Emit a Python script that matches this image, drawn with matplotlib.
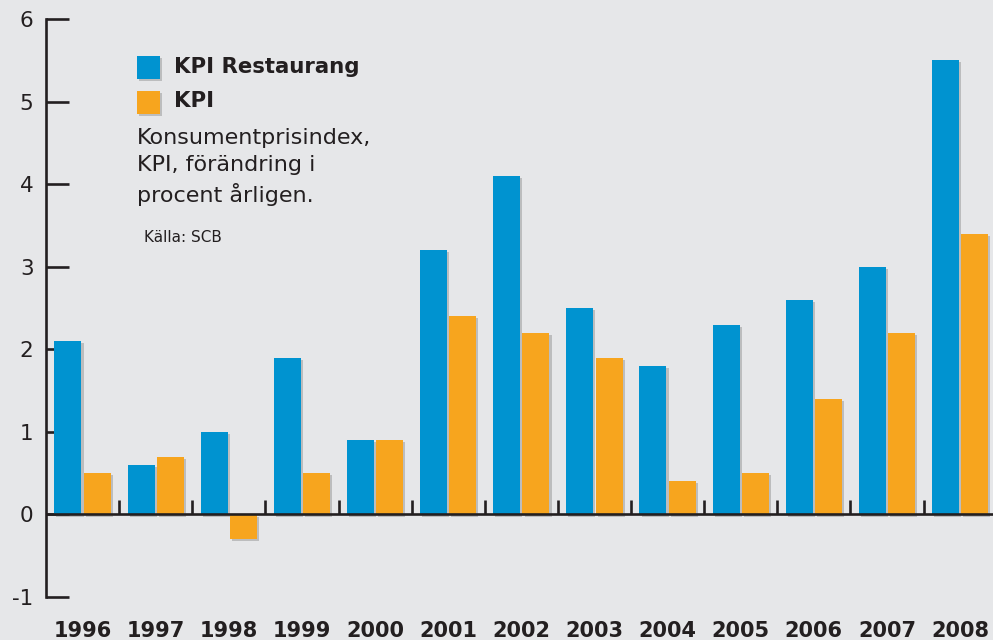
"""KPI Restaurang vs KPI, annual change in percent."""

import matplotlib

matplotlib.use("Agg")
import matplotlib.patheffects as pe
import matplotlib.pyplot as plt
import numpy as np
from matplotlib.patches import Rectangle

years = ["1996", "1997", "1998", "1999", "2000", "2001", "2002",
         "2003", "2004", "2005", "2006", "2007", "2008"]
kpi_restaurang = [2.1, 0.6, 1.0, 1.9, 0.9, 3.2, 4.1, 2.5, 1.8, 2.3, 2.6, 3.0, 5.5]
kpi = [0.5, 0.7, -0.3, 0.5, 0.9, 2.4, 2.2, 1.9, 0.4, 0.5, 1.4, 2.2, 3.4]
y_ticks = [-1, 0, 1, 2, 3, 4, 5, 6]

BG = "#e6e7e9"
BLUE = "#0093d0"
ORANGE = "#f7a51e"
INK = "#231f20"

shadow = [pe.SimplePatchShadow(offset=(1.5, -1.5), shadow_rgbFace="#8a8a8a", alpha=0.45), pe.Normal()]

plt.rcParams["font.family"] = "DejaVu Sans"
fig = plt.figure(figsize=(9.93, 6.4), dpi=100, facecolor=BG)
ax = fig.add_axes([46 / 993, 43 / 640, 1 - 46 / 993, 578 / 640])
ax.set_facecolor(BG)

x = np.arange(len(years))
w = 0.37
gap = 0.015
b1 = ax.bar(x - w / 2 - gap, kpi_restaurang, w, color=BLUE, zorder=2)
b2 = ax.bar(x + w / 2 + gap, kpi, w, color=ORANGE, zorder=2)
for bar in [*b1, *b2]:
    bar.set_path_effects(shadow)

ax.set_xlim(-0.5, 12.45)
ax.set_ylim(-1, 6)
ax.set_yticks(y_ticks)
ax.set_yticklabels([str(v) for v in y_ticks], fontsize=15.5, color=INK)
ax.tick_params(axis="y", direction="in", length=16.5, width=1.9, color=INK, pad=9)

ax.set_xticks(x, years)
ax.tick_params(axis="x", length=0, pad=17)
for lbl in ax.get_xticklabels():
    lbl.set_fontsize(15)
    lbl.set_fontweight("bold")
    lbl.set_color(INK)

for side in ("top", "right", "bottom"):
    ax.spines[side].set_visible(False)
ax.spines["left"].set_linewidth(1.9)
ax.spines["left"].set_color(INK)

ax.axhline(0, color=INK, lw=1.9, zorder=3)
ax.vlines(x[:-1] + 0.5, 0, 0.17, color=INK, lw=1.9, zorder=3)

# legend + note
for y0, col in ((561 / 640, BLUE), (526 / 640, ORANGE)):
    r = Rectangle((137 / 993, y0), 23 / 993, 23 / 640, transform=fig.transFigure,
                  facecolor=col, edgecolor="none")
    r.set_path_effects(shadow)
    fig.add_artist(r)
fig.text(174 / 993, (640 - 67) / 640, "KPI Restaurang", fontsize=15.3, fontweight="bold",
         color=INK, va="center", ha="left")
fig.text(174 / 993, (640 - 101) / 640, "KPI", fontsize=15.3, fontweight="bold",
         color=INK, va="center", ha="left")
fig.text(137 / 993, (640 - 167) / 640, "Konsumentprisindex,\nKPI, förändring i\nprocent årligen.",
         fontsize=16, color=INK, va="center", ha="left", linespacing=1.4)
fig.text(144 / 993, (640 - 237) / 640, "Källa: SCB", fontsize=11, color=INK,
         va="center", ha="left")

fig.savefig("out.png", dpi=100, facecolor=BG)
